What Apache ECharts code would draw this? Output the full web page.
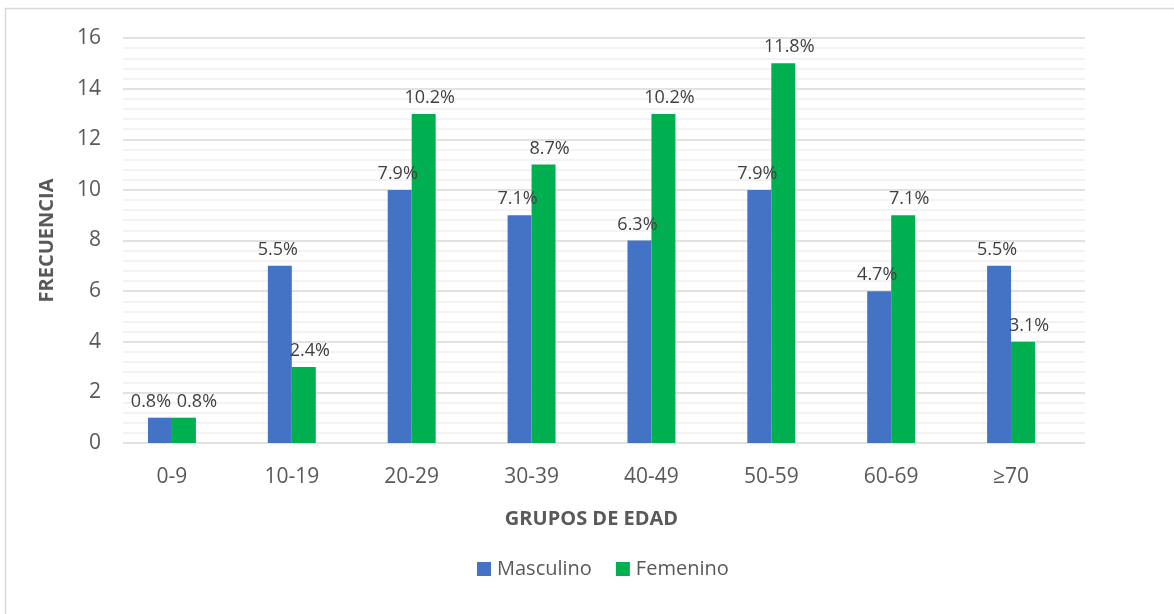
<!DOCTYPE html>
<html>
<head>
<meta charset="utf-8">
<script src="https://cdn.jsdelivr.net/npm/echarts@6/dist/echarts.min.js"></script>
<style>
  html, body { margin: 0; padding: 0; background: #ffffff; }
  #chart { width: 1174px; height: 614px; }
</style>
</head>
<body>
<div id="chart"></div>
<script>
// Age groups and counts per sex
const categories = ['0-9', '10-19', '20-29', '30-39', '40-49', '50-59', '60-69', '≥70'];
const masculino = [1, 7, 10, 9, 8, 10, 6, 7];
const femenino = [1, 3, 13, 11, 13, 15, 9, 4];
const yTicks = [0, 2, 4, 6, 8, 10, 12, 14, 16];

// Percentages are shares of the overall total
const total = masculino.concat(femenino).reduce((a, b) => a + b, 0);
const pct = v => (v / total * 100).toFixed(1) + '%';

const FONT = '"Open Sans", "Liberation Sans", sans-serif';
const TEXT = '#595959';

const chart = echarts.init(document.getElementById('chart'), null, { renderer: 'canvas' });

function labelStyle(dx) {
  return {
    show: true,
    position: 'top',
    distance: 7,
    offset: [dx, 0],
    color: '#404040',
    fontSize: 18,
    fontFamily: FONT,
    formatter: p => pct(p.value)
  };
}

// the first group's two labels sit side by side, so spread them apart
function barData(values, firstDx) {
  return values.map((v, i) => i === 0 ? { value: v, label: { offset: [firstDx, 0] } } : v);
}

const yMin = yTicks[0];
const yMax = yTicks[yTicks.length - 1];

chart.setOption({
  backgroundColor: '#ffffff',
  animation: false,
  graphic: [{
    type: 'rect',
    shape: { x: 5.5, y: 8.5, width: 1200, height: 700 },
    style: { fill: 'none', stroke: '#d9d9d9', lineWidth: 1.5 },
    silent: true,
    z: -10
  }],
  grid: [
    // value scale with its gridlines
    { left: 123, right: 89, top: 38, bottom: 171 },
    // category band holding the bars
    { left: 112, right: 103, top: 38, bottom: 171 }
  ],
  legend: {
    data: ['Masculino', 'Femenino'],
    left: 472,
    top: 554,
    itemWidth: 14,
    itemHeight: 14,
    itemGap: 24,
    icon: 'rect',
    textStyle: { color: TEXT, fontSize: 20, fontFamily: FONT, padding: [0, 0, 0, 1] }
  },
  xAxis: [
    { type: 'value', gridIndex: 0, min: 0, max: 1, show: false },
    {
      type: 'category',
      gridIndex: 1,
      data: categories,
      name: 'GRUPOS DE EDAD',
      nameLocation: 'middle',
      nameGap: 66,
      nameTextStyle: { color: TEXT, fontSize: 20, fontWeight: 'bold', fontFamily: FONT },
      axisLine: { show: false },
      axisTick: { show: false },
      axisLabel: { color: TEXT, fontSize: 21, fontFamily: FONT, margin: 24 }
    }
  ],
  yAxis: [
    {
      type: 'value',
      gridIndex: 0,
      min: yMin,
      max: yMax,
      interval: 2,
      name: 'FRECUENCIA',
      nameLocation: 'middle',
      nameGap: 66,
      nameTextStyle: { color: TEXT, fontSize: 20, fontWeight: 'bold', fontFamily: FONT },
      axisLine: { show: false },
      axisTick: { show: false },
      axisLabel: { color: TEXT, fontSize: 21, fontFamily: FONT, margin: 22 },
      splitLine: { show: true, lineStyle: { color: '#d9d9d9', width: 1.5 } },
      minorTick: { show: false, splitNumber: 5 },
      minorSplitLine: { show: true, lineStyle: { color: '#efefef', width: 1.5 } }
    },
    {
      type: 'value',
      gridIndex: 1,
      min: yMin,
      max: yMax,
      interval: 2,
      show: false,
      splitLine: { show: false }
    }
  ],
  series: [
    {
      name: 'Masculino',
      type: 'bar',
      xAxisIndex: 1,
      yAxisIndex: 1,
      data: barData(masculino, -9),
      itemStyle: { color: '#4472C4' },
      barGap: '0%',
      barCategoryGap: '60%',
      label: labelStyle(-2)
    },
    {
      name: 'Femenino',
      type: 'bar',
      xAxisIndex: 1,
      yAxisIndex: 1,
      data: barData(femenino, 13),
      itemStyle: { color: '#00B050' },
      barGap: '0%',
      barCategoryGap: '60%',
      label: labelStyle(6)
    }
  ]
});
</script>
</body>
</html>
